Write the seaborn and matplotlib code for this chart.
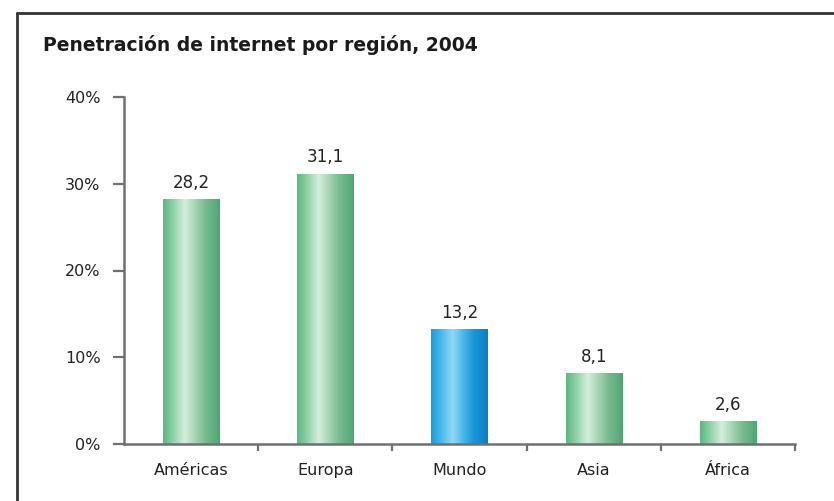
import numpy as np
import pandas as pd
import matplotlib
matplotlib.use("Agg")
import matplotlib.pyplot as plt
import seaborn as sns
from matplotlib.colors import LinearSegmentedColormap
from matplotlib.lines import Line2D
from matplotlib.ticker import FixedLocator

regions = ["Américas", "Europa", "Mundo", "Asia", "África"]
penetration = [28.2, 31.1, 13.2, 8.1, 2.6]
highlight = "Mundo"
y_ticks = [0, 10, 20, 30, 40]
y_tick_labels = ["0%", "10%", "20%", "30%", "40%"]
title = "Penetración de internet por región, 2004"

df = pd.DataFrame({"region": regions, "value": penetration})

sns.set_theme(style="white")
plt.rcParams["font.family"] = ["DejaVu Sans"]

fig = plt.figure(figsize=(8.34, 5.01), dpi=100)
ax = fig.add_axes([124 / 834, 1 - 444 / 501, (795 - 124) / 834, (444 - 97) / 501])

sns.barplot(data=df, x="region", y="value", order=regions, ax=ax,
            width=0.42, color="#7cc497", saturation=1)

green_cmap = LinearSegmentedColormap.from_list(
    "green_tube",
    [(0.0, "#5cb882"), (0.15, "#86cda0"), (0.38, "#d4eedc"),
     (0.55, "#a9d6b7"), (0.75, "#77bb8f"), (1.0, "#4fa673")])
blue_cmap = LinearSegmentedColormap.from_list(
    "blue_tube",
    [(0.0, "#13a0df"), (0.15, "#3fb5e8"), (0.38, "#93d8f5"),
     (0.55, "#4dbbec"), (0.75, "#1a97d8"), (1.0, "#0a7fc4")])

gradient = np.linspace(0, 1, 256).reshape(1, -1)
for name, val, patch in zip(regions, penetration, ax.patches):
    x0 = patch.get_x()
    w = patch.get_width()
    h = patch.get_height()
    cmap = blue_cmap if name == highlight else green_cmap
    patch.set_visible(False)
    ax.imshow(gradient, cmap=cmap, aspect="auto",
              extent=[x0, x0 + w, 0, h], zorder=2, interpolation="bilinear")
    ax.text(x0 + w / 2, h + 0.9, f"{val:.1f}".replace(".", ","),
            ha="center", va="bottom", fontsize=12, color="#222222")

ax.set_xlim(-0.5, len(regions) - 0.5)
ax.set_ylim(0, 40)

ax.set_yticks(y_ticks)
ax.set_yticklabels(y_tick_labels)
ax.xaxis.set_minor_locator(FixedLocator([i + 0.5 for i in range(len(regions))]))

for side in ["top", "right"]:
    ax.spines[side].set_visible(False)
for side in ["left", "bottom"]:
    ax.spines[side].set_color("#707070")
    ax.spines[side].set_linewidth(1.8)

ax.tick_params(axis="y", which="major", direction="out", length=8, width=1.6,
               color="#707070", pad=9, labelsize=11.5, labelcolor="#222222", left=True)
ax.tick_params(axis="x", which="major", length=0, pad=14,
               labelsize=11.5, labelcolor="#222222")
ax.tick_params(axis="x", which="minor", direction="out", length=5, width=1.6,
               color="#707070", bottom=True)

ax.set_xlabel("")
ax.set_ylabel("")

fig.text(43 / 834, 1 - 45 / 501, title, ha="left", va="center",
         fontsize=13.5, fontweight="bold", color="#1a1a1a")

# frame around the chart panel
frame_color = "#333333"
fig.add_artist(Line2D([17 / 834, 1.0], [1 - 13 / 501, 1 - 13 / 501],
                      transform=fig.transFigure, color=frame_color, linewidth=2))
fig.add_artist(Line2D([17 / 834, 17 / 834], [0.0, 1 - 13 / 501],
                      transform=fig.transFigure, color=frame_color, linewidth=2))

fig.savefig("out.png", dpi=100)
